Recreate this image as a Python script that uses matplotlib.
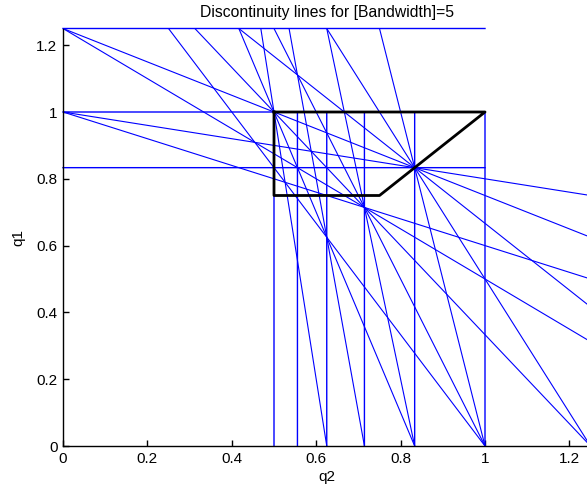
import matplotlib.pyplot as plt

# bandwidth and discontinuity lines n1*q1 + n2*q2 = bw
bw = 5
n1 = [1, 1, 1, 1, 2, 2, 2, 3, 3, 3, 4, 4, 5, 5]
n2 = [5, 6, 7, 8, 4, 5, 6, 3, 4, 5, 2, 3, 1, 2]

# vertical lines q2 = bw/n (q1 from 0 to 1), horizontal lines q1 = bw/n (q2 from 0 to 1)
vert_n = [5, 6, 7, 8, 9, 10]
horz_n = [4, 5, 6]

# black region
box_q2 = [0.5, 1, 0.75, 0.5, 0.5]
box_q1 = [1, 1, 0.75, 0.75, 1]

ticks = [0, 0.2, 0.4, 0.6, 0.8, 1, 1.2]
tick_labels = ['0', '0.2', '0.4', '0.6', '0.8', '1', '1.2']

plt.rcParams['font.family'] = ['Liberation Sans', 'DejaVu Sans']

fig = plt.figure(figsize=(5.87, 4.96), dpi=100)
fig.patch.set_facecolor('white')
ax = fig.add_axes([63/587, 50/496, 527.5/587, 417.5/496])

for a, b in zip(n1, n2):
    ax.plot([0, bw/b], [bw/a, 0], color='#0000ff', lw=0.8)

for n in vert_n:
    ax.plot([bw/n, bw/n], [0, 1], color='#0000ff', lw=1.0, snap=False)

for n in horz_n:
    ax.plot([0, 1], [bw/n, bw/n], color='#0000ff', lw=1.0, snap=False, clip_on=False)

ax.plot(box_q2, box_q1, color='black', lw=2)

ax.set_xlim(0, 1.25)
ax.set_ylim(0, 1.25)
ax.set_xticks(ticks)
ax.set_xticklabels(tick_labels)
ax.set_yticks(ticks)
ax.set_yticklabels(tick_labels)
ax.spines['top'].set_visible(False)
ax.spines['right'].set_visible(False)
for s in ['left', 'bottom']:
    ax.spines[s].set_linewidth(1.0)
ax.tick_params(direction='in', length=4, width=1.0, labelsize=11, pad=4)

ax.set_title('Discontinuity lines for [Bandwidth]=5', fontsize=11.3, pad=8)
ax.set_xlabel('q2', fontsize=11, labelpad=3)
ax.set_ylabel('q1', fontsize=11, labelpad=8)

fig.savefig('out.png', dpi=100)
